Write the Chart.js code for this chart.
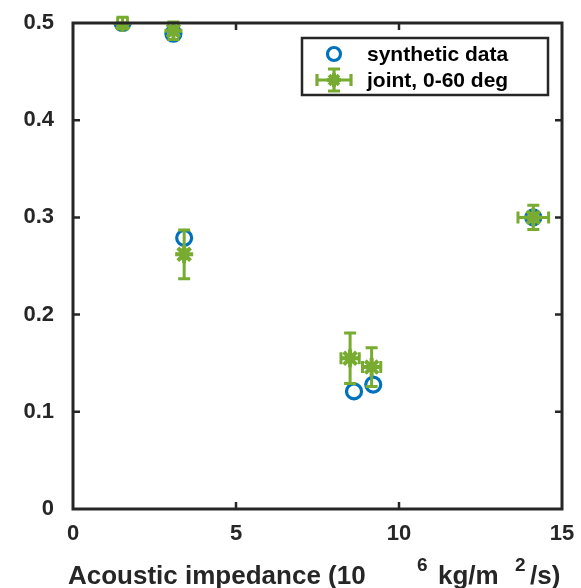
<!DOCTYPE html>
<html><head><meta charset="utf-8">
<script src="https://cdn.jsdelivr.net/npm/chart.js@4/dist/chart.umd.min.js"></script>
<style>html,body{margin:0;padding:0;background:#fff;}#wrap{width:581px;height:588px;}</style>
</head><body><div id="wrap"><canvas id="c" width="581" height="588"></canvas></div>
<script>
// ---- data ----
const synthX = [1.52, 3.08, 3.41, 8.62, 9.21, 14.12];
const synthY = [0.500, 0.489, 0.279, 0.121, 0.128, 0.300];
const jointX = [1.52, 3.08, 3.41, 8.50, 9.16, 14.12];
const jointY = [0.500, 0.492, 0.262, 0.155, 0.146, 0.300];
const jointXErr = [0.15, 0.12, 0.05, 0.28, 0.28, 0.47];
const jointYErr = [0.006, 0.009, 0.025, 0.026, 0.020, 0.0125];
const xTickValues = [0, 5, 10, 15];
const yTickValues = [0, 0.1, 0.2, 0.3, 0.4, 0.5];
const seriesNames = ['synthetic data', 'joint, 0-60 deg'];
const xTitleParts = ['Acoustic impedance (10', '6', 'kg/m', '2', '/s)'];

const BLUE = '#0072BD', GREEN = '#77AC30', AX = '#262626';
const FONT = '"Liberation Sans", Arial, sans-serif';

const toPts = (xs, ys) => xs.map((x, i) => ({x: x, y: ys[i]}));

const errorBars = {
  id: 'errorBars',
  beforeDatasetDraw(chart, args) {
    if (args.index !== 1) return;
    const ctx = chart.ctx, xs = chart.scales.x, ys = chart.scales.y;
    ctx.save();
    ctx.strokeStyle = GREEN; ctx.lineCap = 'butt';
    jointX.forEach((x, i) => {
      const px = xs.getPixelForValue(x), py = ys.getPixelForValue(jointY[i]);
      const y1 = ys.getPixelForValue(jointY[i] + jointYErr[i]);
      const y2 = ys.getPixelForValue(jointY[i] - jointYErr[i]);
      const x1 = xs.getPixelForValue(x - jointXErr[i]);
      const x2 = xs.getPixelForValue(x + jointXErr[i]);
      const c = 6;
      ctx.beginPath();
      ctx.moveTo(px, y1); ctx.lineTo(px, y2);
      ctx.moveTo(px - c, y1); ctx.lineTo(px + c, y1);
      ctx.moveTo(px - c, y2); ctx.lineTo(px + c, y2);
      ctx.moveTo(x1, py); ctx.lineTo(x2, py);
      ctx.moveTo(x1, py - c); ctx.lineTo(x1, py + c);
      ctx.moveTo(x2, py - c); ctx.lineTo(x2, py + c);
      ctx.lineWidth = 3;
      ctx.stroke();
    });
    ctx.restore();
  }
};

function drawStar(ctx, x, y, r) {
  ctx.beginPath();
  ctx.moveTo(x - r, y); ctx.lineTo(x + r, y);
  ctx.moveTo(x, y - r); ctx.lineTo(x, y + r);
  const d = r * Math.SQRT1_2;
  ctx.moveTo(x - d, y - d); ctx.lineTo(x + d, y + d);
  ctx.moveTo(x - d, y + d); ctx.lineTo(x + d, y - d);
  ctx.stroke();
}

const frame = {
  id: 'frame',
  afterDraw(chart) {
    const ctx = chart.ctx, a = chart.chartArea, xs = chart.scales.x, ys = chart.scales.y;
    ctx.save();
    ctx.strokeStyle = AX; ctx.lineWidth = 3;
    ctx.strokeRect(a.left, a.top, a.right - a.left, a.bottom - a.top);
    ctx.lineWidth = 2.5;
    const tl = 7;
    ctx.beginPath();
    xTickValues.forEach(v => {
      const p = xs.getPixelForValue(v);
      if (v === xs.min || v === xs.max) return;
      ctx.moveTo(p, a.bottom); ctx.lineTo(p, a.bottom - tl);
      ctx.moveTo(p, a.top); ctx.lineTo(p, a.top + tl);
    });
    yTickValues.forEach(v => {
      const p = ys.getPixelForValue(v);
      if (v === ys.min || v === ys.max) return;
      ctx.moveTo(a.left, p); ctx.lineTo(a.left + tl, p);
      ctx.moveTo(a.right, p); ctx.lineTo(a.right - tl, p);
    });
    ctx.stroke();

    // legend
    const lx = 302, ly = 38, lw = 246, lh = 57;
    ctx.fillStyle = '#fff';
    ctx.fillRect(lx, ly, lw, lh);
    ctx.lineWidth = 2.5; ctx.strokeStyle = AX;
    ctx.strokeRect(lx, ly, lw, lh);
    const mx = 334, r1 = 54, r2 = 80;
    ctx.strokeStyle = BLUE; ctx.lineWidth = 3.2;
    ctx.beginPath(); ctx.arc(mx, r1, 6.5, 0, Math.PI * 2); ctx.stroke();
    ctx.strokeStyle = GREEN; ctx.lineWidth = 3.2;
    ctx.beginPath();
    ctx.moveTo(mx - 17, r2); ctx.lineTo(mx + 17, r2);
    ctx.moveTo(mx - 17, r2 - 6); ctx.lineTo(mx - 17, r2 + 6);
    ctx.moveTo(mx + 17, r2 - 6); ctx.lineTo(mx + 17, r2 + 6);
    ctx.moveTo(mx, r2 - 11); ctx.lineTo(mx, r2 + 11);
    ctx.moveTo(mx - 6, r2 - 11); ctx.lineTo(mx + 6, r2 - 11);
    ctx.moveTo(mx - 6, r2 + 11); ctx.lineTo(mx + 6, r2 + 11);
    ctx.stroke();
    ctx.lineWidth = 4;
    drawStar(ctx, mx, r2, 7);
    ctx.fillStyle = '#000';
    ctx.font = 'bold 21px ' + FONT;
    ctx.textBaseline = 'middle'; ctx.textAlign = 'left';
    ctx.fillText(seriesNames[0], 367, r1 + 1);
    ctx.fillText(seriesNames[1], 367, r2 + 1);

    // x axis title with superscripts
    ctx.fillStyle = AX;
    ctx.textBaseline = 'alphabetic';
    ctx.font = 'bold 26px ' + FONT;
    ctx.fillText(xTitleParts[0], 68, 584);
    ctx.fillText(xTitleParts[2], 438, 584);
    ctx.fillText(xTitleParts[4], 530, 584);
    ctx.font = 'bold 19px ' + FONT;
    ctx.fillText(xTitleParts[1], 417, 571);
    ctx.fillText(xTitleParts[3], 515, 571);
    ctx.restore();
  }
};

new Chart(document.getElementById('c'), {
  type: 'scatter',
  data: {
    datasets: [
      {label: seriesNames[0], data: toPts(synthX, synthY), order: 1,
       pointStyle: 'circle', pointRadius: 7.5, pointBorderWidth: 3.2,
       borderColor: BLUE, backgroundColor: 'rgba(0,0,0,0)'},
      {label: seriesNames[1], data: toPts(jointX, jointY), order: 0,
       pointStyle: 'star', pointRadius: 9, pointBorderWidth: 4,
       borderColor: GREEN, backgroundColor: GREEN}
    ]
  },
  options: {
    responsive: false, animation: false, devicePixelRatio: 1,
    layout: {padding: {top: 23, right: 19, left: 0, bottom: 0}},
    plugins: {legend: {display: false}, tooltip: {enabled: false}},
    scales: {
      x: {type: 'linear', min: 0, max: 15,
          afterBuildTicks: s => { s.ticks = xTickValues.map(v => ({value: v})); },
          afterFit: s => { s.height = 79; s.paddingLeft = 0; s.paddingRight = 0; s.paddingTop = 0; s.paddingBottom = 0; },
          grid: {display: false, drawTicks: false}, border: {display: false},
          ticks: {padding: 12, color: AX, font: {family: FONT, size: 22, weight: 'bold'}}},
      y: {type: 'linear', min: 0, max: 0.5,
          afterBuildTicks: s => { s.ticks = yTickValues.map(v => ({value: v})); },
          afterFit: s => { s.width = 73; s.paddingLeft = 0; s.paddingRight = 0; s.paddingTop = 0; s.paddingBottom = 0; },
          grid: {display: false, drawTicks: false}, border: {display: false},
          ticks: {padding: 19, color: AX, font: {family: FONT, size: 22, weight: 'bold'}}}
    }
  },
  plugins: [errorBars, frame]
});
</script></body></html>
